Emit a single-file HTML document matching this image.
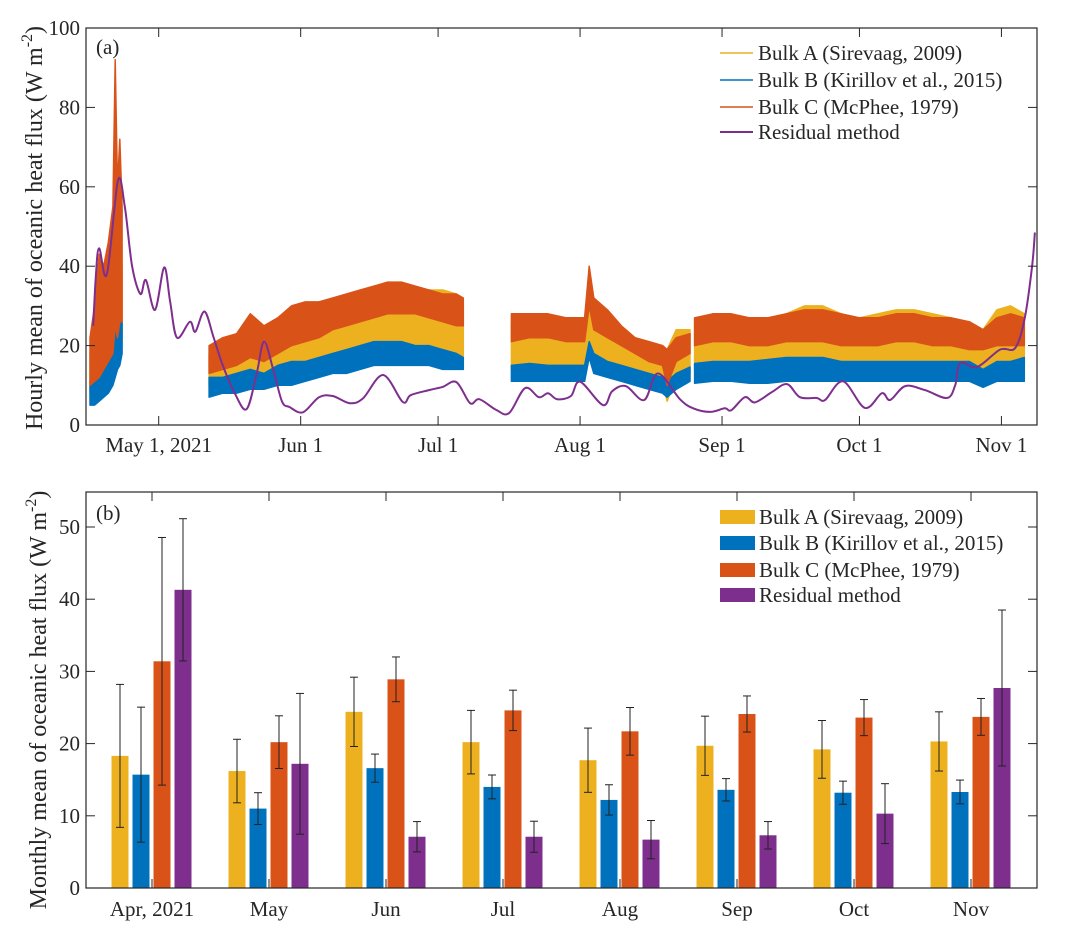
<!DOCTYPE html>
<html><head><meta charset="utf-8">
<style>
html,body{margin:0;padding:0;background:#fff;}
svg{display:block;font-family:"Liberation Serif",serif;}
</style></head>
<body>
<svg id="fig" width="1080" height="945" viewBox="0 0 1080 945" xmlns="http://www.w3.org/2000/svg">
  <g id="pa"></g>
  <g id="pb"></g>
</svg>
<script>
// ---------- Panel (a) data ----------
const tickDays = [15, 46, 76, 107, 138, 168, 199];
const tickLabelsA = ["May 1, 2021", "Jun 1", "Jul 1", "Aug 1", "Sep 1", "Oct 1", "Nov 1"];
const yTicksA = [0, 20, 40, 60, 80, 100];

const bulkDays = [
  [0,1,2,3,4,5,5.5,6,6.5,7],
  [26,29,32,35,38,41,44,47,50,53,56,59,62,65,68,71,74,77,80,81.5],
  [92,96,100,104,108,109,110,113,116,119,122,125,126,128,131],
  [132,136,140,144,148,152,156,160,164,168,172,176,180,184,188,192,195,198,201,204]
];
const bLo = [
  [5,5,6,7,8,10,12,14,15,18],
  [7,8,8,9,9,10,10,11,12,13,13,14,15,15,15,15,15,14,14,14],
  [11,11,11,11,11,17,13,12,11,10,9,8,7,9,11],
  [10.5,11,11,10.5,10.5,11,11,11,11,11,11,11,11,11,11,11,9.5,11,11,11]
];
const bHi = [
  [11,12,14,16,20,22,26,28,26,26],
  [12,12,13,14,13,15,16,16,17,18,19,20,21,21,21,20,20,19,18,17],
  [15,15.5,15,15,15,21,18,16,15,14,13,12,11,13,14.6],
  [15.5,16,16,16,16.5,17,17,17,16,16,16,16,16,16,16,16,14,16,16,17]
];
const aLo = [
  [8,9,10,12,13,15,17,18,20,21],
  [10,10,11,12,11,13,14,14,15,16,17,18,19,19,19,18,18,17,16,16],
  [14,14,14,14,14,20,16,15,14,13,12,11,6,12,13],
  [14,14,14,14,14,15,15,15,14,14,14,14,14,14,14,14,13,14,14,14]
];
const aHi = [
  [18,22,25,30,35,40,45,45,42,40],
  [18,20,21,25,23,25,28,29,30,30,32,33,34,36,35,34,34,34,33,30],
  [26,27,26,26,26,39,30,27,24,22,21,20,19,24,24],
  [26,28,27,26,27,28,30,30,28,27,28,29,29,28,27,26,24,29,30,28]
];
const cLo = [
  [10,11,12,14,16,18,25,22,26,26],
  [13,14,15,17,16,18,20,21,22,24,25,26,27,28,28,28,27,26,25,25],
  [21,22,22,21,21,30,24,22,20,18,16,15,10,16,18],
  [20,21,21,20,20,21,21,21,20,20,20,21,21,20,20,19,19,20,20,20]
];
const cHi = [
  [22,30,43,40,46,55,92,60,72,55],
  [20,22,23,28,25,27,30,31,31,32,33,34,35,36,36,35,34,33,33,32],
  [28,28,28,27,27,40,32,29,25,22,21,20,19,22,23],
  [27,28,28,27,27,28,29,29,28,27,27,28,28,27,27,26,24,27,28,27]
];
const resDays = [0.7,1.3,2,3.7,6.1,7.6,9.2,11,12.2,14.2,16.2,17.5,19,21.8,23,25,27,29,31.6,34.2,36.4,38,40,41.9,43.6,46.5,50,53,56.7,59.6,64,68.3,70,74,77,80,83,85,88.7,91.5,95,98,100,102,105,107,112,114,117,121,124,128.8,131.7,135.4,138.6,140,143,145.2,148.9,152.2,155,158.7,160.5,164.4,169.2,172.9,174.7,178,182.3,187.1,188.9,190,193.7,198.7,202,204.1,205.7,206.3];
const resVals = [25,38,44.5,38,61.5,55,40,33,36.5,29,39.7,31,22,26,23.5,28.6,22,15,8,4,13,21,14,6,4.5,3.2,7,7.3,5.5,6.7,12.6,5.8,7.5,8.8,9.6,10.8,5.5,6.5,3.8,3,9.3,7,8,6.5,7.3,10.9,5,8.5,9.8,6.3,13,6.5,4.2,3.3,4.2,3.7,7,5.7,8.3,10.3,7,6.8,6.3,11,4.3,8,6.3,9.8,8.8,6.8,10,15.6,14.6,19,19.4,27,40,48.5];

// ---------- Panel (b) data ----------
const months = ["Apr, 2021","May","Jun","Jul","Aug","Sep","Oct","Nov"];
const yTicksB = [0,10,20,30,40,50];
const meanA = [18.3,16.2,24.4,20.2,17.7,19.7,19.2,20.3];
const errA  = [9.9,4.4,4.8,4.4,4.45,4.1,4.0,4.1];
const meanB = [15.7,11.0,16.6,14.0,12.2,13.6,13.2,13.3];
const errB  = [9.35,2.2,1.95,1.65,2.1,1.55,1.6,1.65];
const meanC = [31.4,20.2,28.9,24.6,21.7,24.1,23.6,23.7];
const errC  = [17.15,3.65,3.1,2.8,3.3,2.5,2.5,2.55];
const meanR = [41.3,17.2,7.1,7.1,6.7,7.3,10.3,27.7];
const errR  = [9.85,9.75,2.1,2.15,2.65,1.9,4.15,10.8];

const COLORS = {A:"#EDB120", B:"#0072BD", C:"#D95319", R:"#7E2F8E"};
const NS = "http://www.w3.org/2000/svg";
function mk(parent, tag, attrs){ const e=document.createElementNS(NS,tag); for(const k in attrs) e.setAttribute(k,attrs[k]); parent.appendChild(e); return e; }

// ---------- Panel (a) ----------
const A = {L:86, R:1037, T:28, B:425};
const xA = d => 90 + d*4.58;
const yA = v => A.B - v*(A.B-A.T)/100;
const pa = document.getElementById('pa');

function band(lo, hi, color, name){
  for(let s=0;s<bulkDays.length;s++){
    const d=bulkDays[s]; let pts=[];
    for(let i=0;i<d.length;i++) pts.push(xA(d[i]).toFixed(1)+","+yA(hi[s][i]).toFixed(1));
    for(let i=d.length-1;i>=0;i--) pts.push(xA(d[i]).toFixed(1)+","+yA(lo[s][i]).toFixed(1));
    const p = mk(pa,'polygon',{points:pts.join(' '),fill:color,stroke:color,'stroke-width':1.5,'stroke-linejoin':'round'});
    
    
  }
}
band(aLo,aHi,COLORS.A,'bulk-a-series');
band(bLo,bHi,COLORS.B,'bulk-b-series');
band(cLo,cHi,COLORS.C,'bulk-c-series');

(function(){
  const P = resDays.map((d,i)=>[xA(d), yA(resVals[i])]);
  let s = "M"+P[0][0].toFixed(1)+","+P[0][1].toFixed(1);
  for(let i=0;i<P.length-1;i++){
    const p0=P[Math.max(0,i-1)],p1=P[i],p2=P[i+1],p3=P[Math.min(P.length-1,i+2)];
    const c1=[p1[0]+(p2[0]-p0[0])/6,p1[1]+(p2[1]-p0[1])/6];
    const c2=[p2[0]-(p3[0]-p1[0])/6,p2[1]-(p3[1]-p1[1])/6];
    s+=" C"+c1[0].toFixed(1)+","+c1[1].toFixed(1)+" "+c2[0].toFixed(1)+","+c2[1].toFixed(1)+" "+p2[0].toFixed(1)+","+p2[1].toFixed(1);
  }
  const r = mk(pa,'path',{d:s,fill:'none',stroke:COLORS.R,'stroke-width':2});
  
  
})();

const boxA = mk(pa,'rect',{x:A.L,y:A.T,width:A.R-A.L,height:A.B-A.T,fill:'none',stroke:'#262626','stroke-width':1.2});


yTicksA.forEach(v=>{
  const y=yA(v);
  mk(pa,'line',{x1:A.L,x2:A.L+9,y1:y,y2:y,stroke:'#262626','stroke-width':1});
  mk(pa,'line',{x1:A.R-9,x2:A.R,y1:y,y2:y,stroke:'#262626','stroke-width':1});
  const t=mk(pa,'text',{x:A.L-6,y:y+7,'text-anchor':'end','font-size':21,fill:'#262626'});
  t.textContent=v;
  
  
});
tickDays.forEach((d,i)=>{
  const x=xA(d);
  mk(pa,'line',{x1:x,x2:x,y1:A.B,y2:A.B-9,stroke:'#262626','stroke-width':1});
  mk(pa,'line',{x1:x,x2:x,y1:A.T,y2:A.T+9,stroke:'#262626','stroke-width':1});
  const t=mk(pa,'text',{x:x,y:452,'text-anchor':'middle','font-size':21,fill:'#262626'});
  t.textContent=tickLabelsA[i];
  
  
});

// ---------- Panel (b) ----------
const Bx = {L:86, R:1037, T:492, B:888};
const xB = i => 152 + i*117;
const yB = v => Bx.B - v*7.22;
const pb = document.getElementById('pb');
const offs = [-32,-11,10,31];
const sets = [[meanA,errA,COLORS.A,'a'],[meanB,errB,COLORS.B,'b'],[meanC,errC,COLORS.C,'c'],[meanR,errR,COLORS.R,'residual']];
months.forEach((m,i)=>{
  sets.forEach((s,k)=>{
    const cx=xB(i)+offs[k], v=s[0][i], e=s[1][i];
    const r=mk(pb,'rect',{x:cx-8.5,y:yB(v),width:17,height:yB(0)-yB(v),fill:s[2]});
    
    
    const g=mk(pb,'g',{stroke:'#222','stroke-width':1});
    
    
    mk(g,'line',{x1:cx,x2:cx,y1:yB(v-e),y2:yB(v+e)});
    mk(g,'line',{x1:cx-4,x2:cx+4,y1:yB(v-e),y2:yB(v-e)});
    mk(g,'line',{x1:cx-4,x2:cx+4,y1:yB(v+e),y2:yB(v+e)});
  });
  const x=xB(i);
  mk(pb,'line',{x1:x,x2:x,y1:Bx.B,y2:Bx.B-9,stroke:'#262626','stroke-width':1});
  mk(pb,'line',{x1:x,x2:x,y1:Bx.T,y2:Bx.T+9,stroke:'#262626','stroke-width':1});
  const t=mk(pb,'text',{x:x,y:916,'text-anchor':'middle','font-size':21,fill:'#262626'});
  t.textContent=m;
  
  
});
const boxB = mk(pb,'rect',{x:Bx.L,y:Bx.T,width:Bx.R-Bx.L,height:Bx.B-Bx.T,fill:'none',stroke:'#262626','stroke-width':1.2});


yTicksB.forEach(v=>{
  const y=yB(v);
  mk(pb,'line',{x1:Bx.L,x2:Bx.L+9,y1:y,y2:y,stroke:'#262626','stroke-width':1});
  mk(pb,'line',{x1:Bx.R-9,x2:Bx.R,y1:y,y2:y,stroke:'#262626','stroke-width':1});
  const t=mk(pb,'text',{x:Bx.L-6,y:y+7,'text-anchor':'end','font-size':21,fill:'#262626'});
  t.textContent=v;
  
  
});
</script>
<svg style="position:absolute;left:0;top:0" width="1080" height="945" viewBox="0 0 1080 945" xmlns="http://www.w3.org/2000/svg" font-family="Liberation Serif, serif" fill="#262626">
  <text x="96" y="54" font-size="21">(a)</text>
  <text x="96" y="520" font-size="21">(b)</text>
  <text transform="translate(42,228) rotate(-90)" text-anchor="middle" font-size="24">Hourly mean of oceanic heat flux (W m<tspan dy="-10" font-size="16">-2</tspan><tspan dy="10">)</tspan></text>
  <text transform="translate(46,700) rotate(-90)" text-anchor="middle" font-size="24">Monthly mean of oceanic heat flux (W m<tspan dy="-10" font-size="16">-2</tspan><tspan dy="10">)</tspan></text>
  <g font-size="21">
    <line x1="720" x2="753" y1="53" y2="53" stroke="#EDB120" stroke-width="1.5"/>
    <text x="758" y="60">Bulk A (Sirevaag, 2009)</text>
    <line x1="720" x2="753" y1="80" y2="80" stroke="#0072BD" stroke-width="1.5"/>
    <text x="758" y="87">Bulk B (Kirillov et al., 2015)</text>
    <line x1="720" x2="753" y1="107" y2="107" stroke="#D95319" stroke-width="1.5"/>
    <text x="758" y="114">Bulk C (McPhee, 1979)</text>
    <line x1="720" x2="753" y1="132" y2="132" stroke="#7E2F8E" stroke-width="2"/>
    <text x="758" y="139">Residual method</text>
  </g>
  <g font-size="21">
    <rect x="720" y="510" width="35" height="14" fill="#EDB120"/>
    <text x="759" y="524">Bulk A (Sirevaag, 2009)</text>
    <rect x="720" y="536" width="35" height="14" fill="#0072BD"/>
    <text x="759" y="550">Bulk B (Kirillov et al., 2015)</text>
    <rect x="720" y="563" width="35" height="14" fill="#D95319"/>
    <text x="759" y="577">Bulk C (McPhee, 1979)</text>
    <rect x="720" y="588" width="35" height="14" fill="#7E2F8E"/>
    <text x="759" y="602">Residual method</text>
  </g>
</svg>
</body></html>
